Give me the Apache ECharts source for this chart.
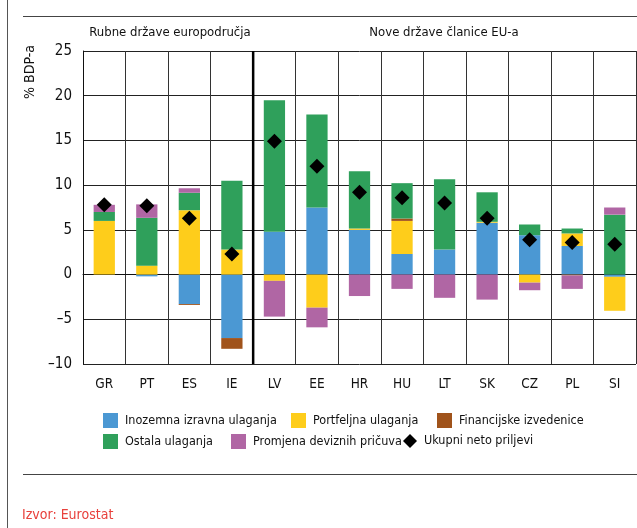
<!DOCTYPE html>
<html><head><meta charset="utf-8">
<script src="https://cdn.jsdelivr.net/npm/echarts@6/dist/echarts.min.js"></script>
<style>html,body{margin:0;padding:0;background:#fff}#c{width:637px;height:528px}</style>
</head><body><div id="c"></div>
<script>
const categories = ['GR','PT','ES','IE','LV','EE','HR','HU','LT','SK','CZ','PL','SI'];
const fdi        = [0, -0.2, -3.3, -7.1, 4.8, 7.5, 5.0, 2.3, 2.8, 5.8, 4.4, 3.2, -0.25];
const portfolio  = [6.0, 1.0, 7.2, 2.8, -0.7, -3.7, 0.15, 3.7, 0, 0.1, -0.9, 1.4, -3.8];
const derivatives= [0, 0, -0.1, -1.2, 0, 0, 0, 0.27, 0, 0, 0, -0.1, 0];
const other      = [1.0, 5.35, 1.95, 7.7, 14.7, 10.4, 6.4, 3.95, 7.85, 3.3, 1.2, 0.55, 6.7];
const reserves   = [0.8, 1.5, 0.5, 0, -4.0, -2.2, -2.4, -1.6, -2.6, -2.8, -0.85, -1.5, 0.8];
const total      = [7.8, 7.7, 6.3, 2.3, 14.9, 12.1, 9.2, 8.6, 8.0, 6.3, 3.9, 3.6, 3.4];
const yTicks = {min: -10, max: 25, interval: 5};
const groupLabels = ['Rubne države europodručja', 'Nove države članice EU-a'];
const separatorAt = 4;

const FONT = '"DejaVu Sans Condensed","Liberation Sans Narrow","Liberation Sans",sans-serif';
const names = ['Inozemna izravna ulaganja','Portfeljna ulaganja','Financijske izvedenice','Ostala ulaganja','Promjena deviznih pričuva','Ukupni neto priljevi'];
const colors = ['#4b98d3','#fecd1b','#a0531b','#2fa05b','#b066a4','#000000'];
const stacks = [fdi, portfolio, derivatives, other, reserves];

const chart = echarts.init(document.getElementById('c'), null, {renderer:'canvas'});
const barSeries = stacks.map((d,i)=>({
  name: names[i], type:'bar', stack:'s', data:d, barWidth:'50%',
  itemStyle:{color:colors[i]}, xAxisIndex:0, yAxisIndex:0, z:2
}));
const legendPos = [[103,413],[291,413],[437,413],[103,434],[231,434],[403,434]];
const legends = names.map((n,i)=>({
  data:[{name:n, icon: i===5 ? 'diamond' : 'rect'}],
  left: legendPos[i][0], top: legendPos[i][1],
  itemWidth: i===5?14:15, itemHeight: i===5?14:15, padding:0,
  selectedMode:false,
  textStyle:{fontFamily:FONT, fontSize:12.5, color:'#111', padding:[0,0,0,2]}
}));
chart.setOption({
  animation:false,
  textStyle:{fontFamily:FONT},
  grid:{left:83, right:1, top:51, bottom:164},
  legend: legends,
  xAxis:[{
    type:'category', data:categories,
    axisLine:{lineStyle:{color:'#111'}}, axisTick:{show:false},
    axisLabel:{color:'#111', fontSize:13.5, fontFamily:FONT, margin:13},
    splitLine:{show:true, interval:0, lineStyle:{color:'#333', width:1}}
  },{
    type:'value', min:0, max:categories.length, show:false
  }],
  yAxis:[{
    type:'value', min:yTicks.min, max:yTicks.max, interval:yTicks.interval,
    axisLine:{show:true, lineStyle:{color:'#111'}}, axisTick:{show:false},
    axisLabel:{color:'#111', fontSize:15, fontFamily:FONT, margin:11,
      formatter:v=>String(v).replace('-','–')},
    splitLine:{lineStyle:{color:'#222', width:1}}
  }],
  series: barSeries.concat([{
    name:names[5], type:'scatter', data:total, symbol:'diamond', symbolSize:15,
    itemStyle:{color:'#000', opacity:1}, z:5
  },{
    type:'line', xAxisIndex:1, yAxisIndex:0, silent:true, symbol:'none',
    data:[[separatorAt, yTicks.min],[separatorAt, yTicks.max]],
    lineStyle:{color:'#000', width:2.5}, z:4
  }]),
  graphic:[
    {type:'line', shape:{x1:7.5,y1:0,x2:7.5,y2:528}, style:{stroke:'#555', lineWidth:1}},
    {type:'line', shape:{x1:23,y1:16.5,x2:637,y2:16.5}, style:{stroke:'#444', lineWidth:1.2}},
    {type:'line', shape:{x1:23,y1:474.5,x2:637,y2:474.5}, style:{stroke:'#444', lineWidth:1.2}},
    {type:'text', left:22, top:508, style:{text:'Izvor: Eurostat', fill:'#e8413c', font:'14px '+FONT}},
    {type:'text', x:30, y:72, rotation:Math.PI/2, style:{text:'% BDP-a', fill:'#111', font:'14px '+FONT, textAlign:'center', textVerticalAlign:'middle'}},
    {type:'text', x:170, y:33, style:{text:groupLabels[0], fill:'#111', font:'13px '+FONT, textAlign:'center', textVerticalAlign:'middle'}},
    {type:'text', x:444, y:33, style:{text:groupLabels[1], fill:'#111', font:'13px '+FONT, textAlign:'center', textVerticalAlign:'middle'}}
  ]
});
</script></body></html>
